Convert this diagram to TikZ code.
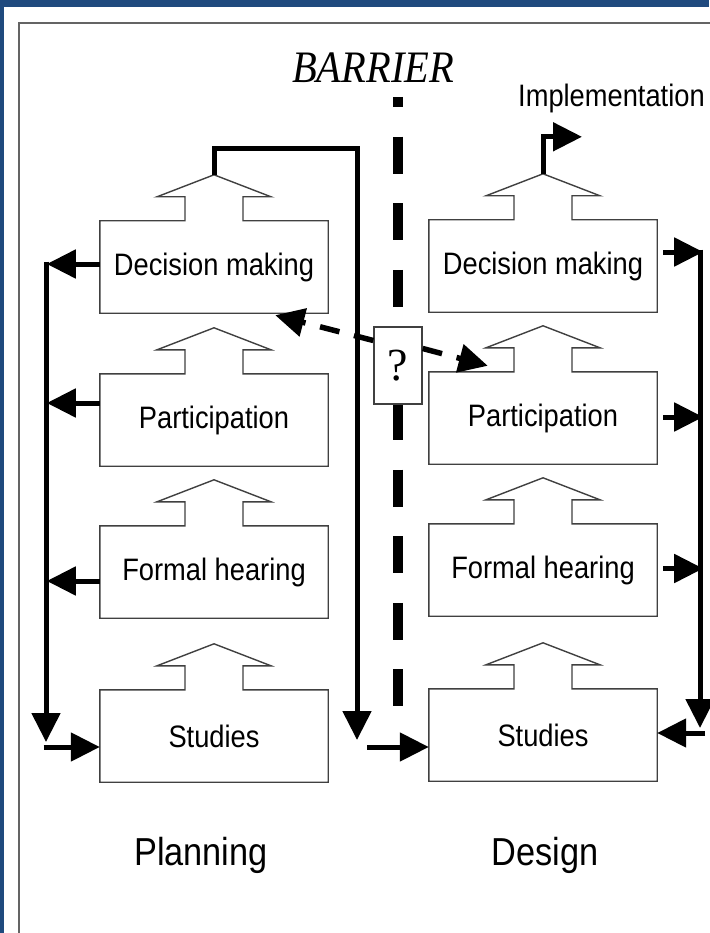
\documentclass[tikz,border=0pt]{standalone}
\usepackage{fontspec}
\setmainfont{Liberation Serif}
\newfontfamily\labelfont{Liberation Sans}[FakeStretch=0.88]
\newfontfamily\barrierfont{Liberation Serif}[FakeStretch=0.9]
\usetikzlibrary{arrows.meta,calc}
\definecolor{frameblue}{RGB}{31,74,126}
\definecolor{framegray}{RGB}{100,100,100}

\tikzset{
  stage/.style={minimum width=228pt, minimum height=92pt, inner sep=0pt, font=\labelfont\fontsize{31}{36}\selectfont},
  stageline/.style={draw=black!75, line width=1.4pt, line join=miter},
  flow/.style={line width=5pt, line join=miter, -{Triangle[length=29pt,width=28pt]}},
  query/.style={line width=5.5pt, dash pattern=on 20pt off 15pt, -{Triangle[length=29pt,width=28pt]}},
}

\begin{document}
\begin{tikzpicture}[x=1pt,y=-1pt]
      \useasboundingbox (0,0) rectangle (709,933);
      \fill[white] (0,0) rectangle (709,933);
      \fill[frameblue] (0,0) rectangle (709,7);
      \fill[frameblue] (0,0) rectangle (4,933);
      \draw[framegray, line width=2pt] (19,940) -- (19,23) -- (715,23);
      
      % the two columns of stages
      \node[stage] (pdec) at (214,267) {Decision making};
      \node[stage] (ppart) at (214,420) {Participation};
      \node[stage] (pform) at (214,572) {Formal hearing};
      \node[stage] (pstud) at (214,736) {Studies};
      \node[stage] (ddec) at (543,266) {Decision making};
      \node[stage] (dpart) at (543,418) {Participation};
      \node[stage] (dform) at (543,570) {Formal hearing};
      \node[stage] (dstud) at (543,735) {Studies};
      
      \foreach \s in {pdec,ppart,pform,pstud,ddec,dpart,dform,dstud} {
      \draw[stageline] ($(\s.north)+(-29,0)$) -- ++(0,-24) -- ++(-28,0) -- ++(57,-22) -- ++(57,22) -- ++(-28,0) -- ++(0,24)
        -- (\s.north east) -- (\s.south east) -- (\s.south west) -- (\s.north west) -- cycle; % box with block arrow
      \coordinate (\s-tip) at ($(\s.north)+(0,-46)$);
      }
      
      % barrier
      \coordinate (bartop) at (398,97);
      \coordinate (barbot) at (398,707);
      \draw[line width=10pt, dash pattern=on 37pt off 29.6pt, dash phase=27pt] (bartop) -- (barbot);
      \node[draw=black!75, line width=1.4pt, fill=white, minimum width=48pt, minimum height=77pt, inner sep=0pt, font=\fontsize{46}{50}\selectfont] (qbox) at (398,365.5) {?};
      \node[font=\barrierfont\itshape\fontsize{45}{50}\selectfont, anchor=base, inner sep=0pt] (barrier) at (373,83) {BARRIER};
      
      % planning loop
      \coordinate (ltop) at (46,261.5);
      \coordinate (lbot) at (46,742);
      \draw[flow] (ltop) -- (lbot);
      \draw[flow] ([yshift=3pt]pdec.west) -- ++(-53,0);
      \draw[flow] ([yshift=17pt]ppart.west) -- ++(-53,0);
      \draw[flow] ([yshift=-9pt]pform.west) -- ++(-53,0);
      \draw[flow] (lbot) ++(-2.5,5) -- ([yshift=-11pt]pstud.west);
      
      \coordinate (bend) at (357,149);
      \coordinate (bfoot) at (357,740);
      \draw[flow] (pdec-tip) |- (bend) -- (bfoot);
      \draw[flow] ([xshift=10pt,yshift=-7pt]bfoot) -- ([yshift=-12pt]dstud.west);
      
      % design loop
      \coordinate (rtop) at (700,249.5);
      \coordinate (rbot) at (700,728);
      \draw[flow] (rtop) -- (rbot);
      \draw[flow] ([xshift=6pt,yshift=14pt]ddec.east) -- ++(40,0);
      \draw[flow] ([xshift=6pt,yshift=1pt]dpart.east) -- ++(40,0);
      \draw[flow] ([xshift=6pt,yshift=1.5pt]dform.east) -- ++(40,0);
      \draw[flow] (rbot) ++(5,5) -- ([yshift=2pt]dstud.east);
      
      \draw[flow] (ddec-tip) |- ++(39,-37);
      \node[anchor=base west, inner sep=0pt, font=\labelfont\fontsize{31}{36}\selectfont] (impl) at (518,107) {Implementation};
      
      % crossing the barrier
      \draw[query] ([yshift=25pt]qbox.west) -- ([xshift=-53pt,yshift=-2pt]pdec.south east);
      \draw[query] ([yshift=17pt]qbox.east) -- ([xshift=59pt,yshift=6pt]dpart.north west);
      
      \node[anchor=base, inner sep=0pt, font=\labelfont\fontsize{39}{44}\selectfont] (planning) at (201,865) {Planning};
      \node[anchor=base, inner sep=0pt, font=\labelfont\fontsize{39}{44}\selectfont] (design) at (545,865) {Design};
      
\end{tikzpicture}
\end{document}
